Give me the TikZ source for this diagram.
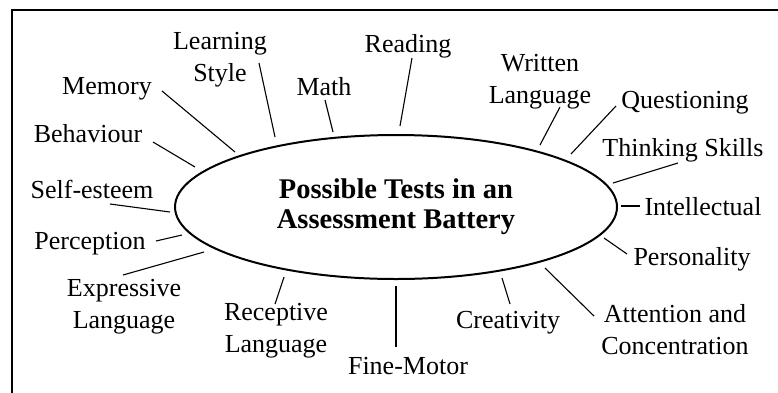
\documentclass[tikz,border=0pt]{standalone}
\usepackage{fontspec}
\setmainfont{Liberation Serif}
\usetikzlibrary{shapes.geometric}
\begin{document}
\begin{tikzpicture}[x=1pt,y=-1pt,
  lbl/.style={font=\fontsize{26}{32}\selectfont, inner sep=0pt, anchor=base, align=center},
  spoke/.style={line width=1.1pt},
  hubstyle/.style={ellipse, draw, line width=2pt, inner sep=0pt,
    minimum width=442pt, minimum height=144pt,
    font=\fontsize{28.5}{30}\bfseries\selectfont, align=center}]
\useasboundingbox (0,0) rectangle (778,392);
\draw[line width=2pt] (12,393) -- (12,10) -- (779,10);
\node[hubstyle] (hub) at (396,207) {Possible Tests in an\\Assessment Battery};
% labels (anchor = baseline of last line)
\node[lbl] (learn) at (220,81) {Learning\\Style};
\node[lbl] (mem) at (107,94) {Memory};
\node[lbl] (beh) at (88,142) {Behaviour};
\node[lbl] (self) at (92,198) {Self-esteem};
\node[lbl] (perc) at (90,249) {Perception};
\node[lbl] (expr) at (124,328) {Expressive\\Language};
\node[lbl] (recep) at (276,352) {Receptive\\Language};
\node[lbl] (fine) at (408,374) {Fine-Motor};
\node[lbl] (creat) at (508,328) {Creativity};
\node[lbl] (att) at (675,354) {Attention and\\Concentration};
\node[lbl] (pers) at (692,265) {Personality};
\node[lbl] (intel) at (703,215) {Intellectual};
\node[lbl] (think) at (683,156) {Thinking Skills};
\node[lbl] (quest) at (685,108) {Questioning};
\node[lbl] (writ) at (540,103) {Written\\Language};
\node[lbl] (read) at (408,52) {Reading};
\node[lbl] (math) at (324,95) {Math};
% connector ends
\coordinate (learnA) at (259,63);  \coordinate (learnB) at (275,137);
\coordinate (memA) at (162,91);    \coordinate (memB) at (235,152);
\coordinate (behA) at (153,142);   \coordinate (behB) at (195,167);
\coordinate (selfA) at (110,204);  \coordinate (selfB) at (170,212);
\coordinate (percA) at (156,241);  \coordinate (percB) at (182,235);
\coordinate (exprA) at (123,275);  \coordinate (exprB) at (204,252);
\coordinate (recepA) at (275,304); \coordinate (recepB) at (284,277);
\coordinate (fineA) at (396,347);  \coordinate (fineB) at (396,286);
\coordinate (creatA) at (510,304); \coordinate (creatB) at (502,278);
\coordinate (attA) at (594,316);   \coordinate (attB) at (545,268);
\coordinate (persA) at (627,254);  \coordinate (persB) at (604,238);
\coordinate (intelA) at (640,206); \coordinate (intelB) at (621,206);
\coordinate (thinkA) at (678,163); \coordinate (thinkB) at (613,183);
\coordinate (questA) at (616,106); \coordinate (questB) at (571,154);
\coordinate (writA) at (560,107);  \coordinate (writB) at (540,145);
\coordinate (readA) at (412,58);   \coordinate (readB) at (400,126);
\coordinate (mathA) at (325,100);  \coordinate (mathB) at (333,132);
\foreach \n in {learn,mem,beh,self,perc,expr,recep,fine,creat,att,pers,intel,think,quest,writ,read,math}
  \draw[spoke] (\n A) -- (\n B);
\end{tikzpicture}
\end{document}
